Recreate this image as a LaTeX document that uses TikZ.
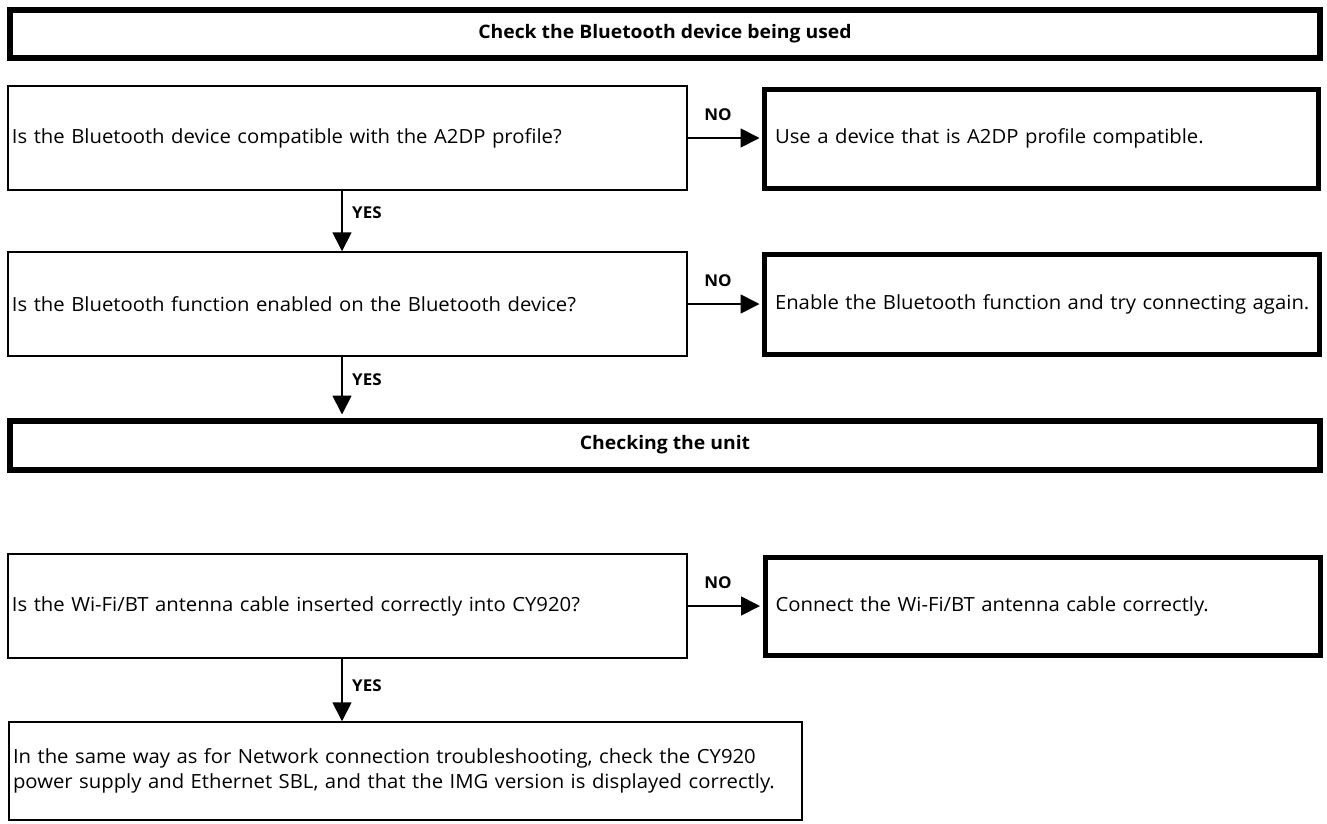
\documentclass[tikz,border=0pt]{standalone}
\usepackage{fontspec}
\setmainfont{Open Sans}[FakeStretch=1.04]
\usetikzlibrary{arrows.meta}
\begin{document}
\begin{tikzpicture}[x=1pt,y=-1pt,
  base/.style={draw=black,fill=white,inner ysep=0pt,anchor=center,font=\fontsize{19.5}{24.5}\selectfont},
  titlebox/.style={base,line width=6pt,align=center,font=\fontsize{18.6}{22}\selectfont\bfseries},
  qbox/.style={base,line width=1.5pt,inner xsep=4pt,align=left},
  abox/.style={base,line width=5pt,inner xsep=10.5pt,align=left},
  flow/.style={line width=1.8pt,-{Triangle[length=19pt,width=19pt]}},
  lbl/.style={font=\fontsize{16.3}{19}\selectfont\bfseries,inner sep=0pt}
]
\useasboundingbox (0,0) rectangle (1327,823);
\node[titlebox,minimum width=1310pt,minimum height=48pt] (t1) at (665,34) {Check the Bluetooth device being used};
\node[qbox,minimum width=679pt,minimum height=104pt,text width=671pt] (q1) at (347.5,138) {Is the Bluetooth device compatible with the A2DP profile?};
\node[abox,minimum width=553.5pt,minimum height=99.5pt,text width=532.5pt] (a1) at (1041.25,138.75) {Use a device that is A2DP profile compatible.};
\node[qbox,minimum width=679pt,minimum height=104pt,text width=671pt] (q2) at (347.5,304) {Is the Bluetooth function enabled on the Bluetooth device?};
\node[abox,minimum width=555pt,minimum height=100pt,text width=534pt] (a2) at (1042,304.5) {\mbox{Enable the Bluetooth function and try connecting again.}};
\node[titlebox,minimum width=1310pt,minimum height=49pt] (t2) at (665,445) {Checking the unit};
\node[qbox,minimum width=679pt,minimum height=104pt,text width=671pt] (q3) at (347.5,606) {Is the Wi-Fi/BT antenna cable inserted correctly into CY920?};
\node[abox,minimum width=555pt,minimum height=98pt,text width=534pt] (a3) at (1042.5,606.5) {Connect the Wi-Fi/BT antenna cable correctly.};
\node[qbox,minimum width=793pt,minimum height=98pt,text width=785pt] (q4) at (405.5,771) {In the same way as for Network connection troubleshooting, check the CY920\\power supply and Ethernet SBL, and that the IMG version is displayed correctly.};
\coordinate (yx) at (342,0);
% NO arrows
\draw[flow,shorten >=2.5pt] (q1.east) -- (q1.east -| a1.west);
\draw[flow,shorten >=2.5pt] (q2.east) -- (q2.east -| a2.west);
\draw[flow,shorten >=2.5pt] (q3.east) -- (q3.east -| a3.west);
\node[lbl] (n1) at (718,115) {NO};
\node[lbl] (n2) at (718,281) {NO};
\node[lbl] (n3) at (718,583) {NO};
% YES arrows
\draw[flow] (q1.south -| yx) -- (q2.north -| yx);
\draw[flow,shorten >=3pt] (q2.south -| yx) -- (t2.north -| yx);
\draw[flow] (q3.south -| yx) -- (q4.north -| yx);
\node[lbl,anchor=west] (y1) at (352,213) {YES};
\node[lbl,anchor=west] (y2) at (352,380) {YES};
\node[lbl,anchor=west] (y3) at (352,686) {YES};
\end{tikzpicture}
\end{document}
